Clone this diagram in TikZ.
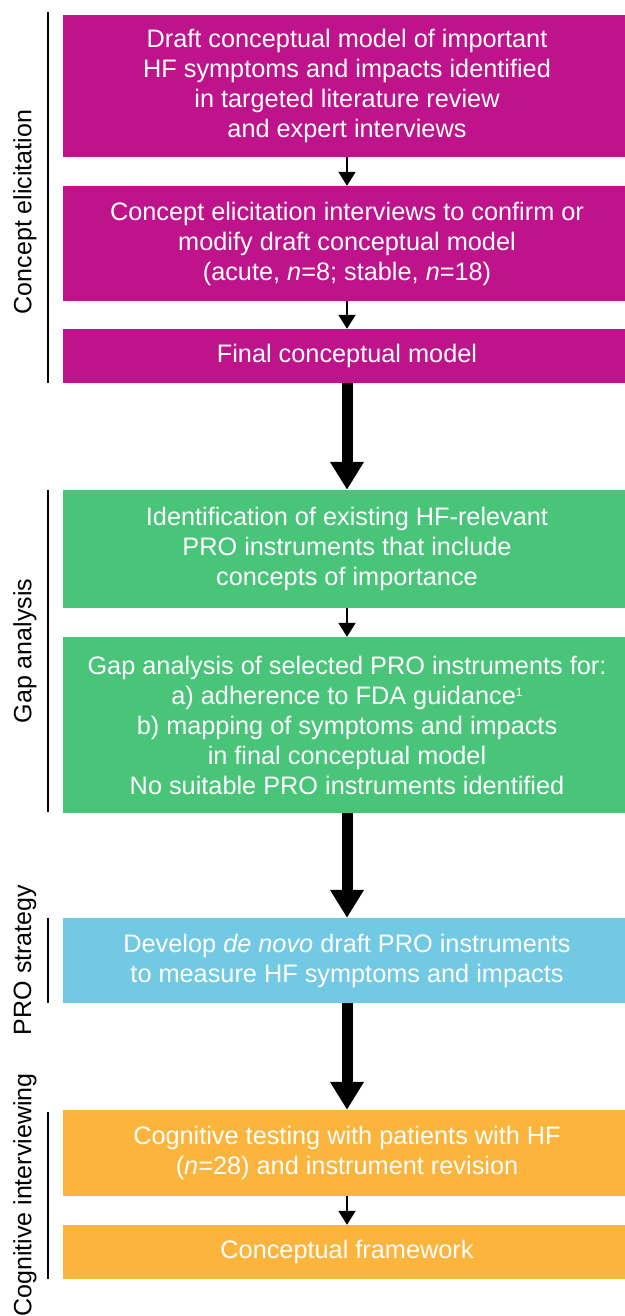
\documentclass[tikz,border=0pt]{standalone}
\usepackage{fontspec}
\setmainfont{Liberation Sans}
\usetikzlibrary{arrows.meta}
\definecolor{cmag}{RGB}{191,19,139}
\definecolor{cgreen}{RGB}{73,197,122}
\definecolor{cblue}{RGB}{114,201,228}
\definecolor{corange}{RGB}{251,180,60}
\begin{document}
\begin{tikzpicture}[x=1pt,y=-1pt,
  stepbox/.style={rectangle, inner sep=0pt, minimum width=568pt, text=white, align=center,
    font=\fontsize{25.3}{30}\selectfont},
  smallarrow/.style={line width=2pt, -{Triangle[width=17pt,length=14pt]}},
  bigarrow/.style={line width=11pt, -{Triangle[width=32pt,length=28pt]}},
  sectline/.style={line width=2pt},
  sectlabel/.style={rotate=90, inner sep=0pt, font=\fontsize{25}{30}\selectfont}]
\useasboundingbox (0,0) rectangle (624,1316);
% boxes
\node[stepbox, fill=cmag, minimum height=142pt] (b1) at (347,86)
  {Draft conceptual model of important\\HF symptoms and impacts identified\\in targeted literature review\\and expert interviews};
\node[stepbox, fill=cmag, minimum height=115pt] (b2) at (347,243.5)
  {Concept elicitation interviews to confirm or\\modify draft conceptual model\\(acute, \textit{n}=8; stable, \textit{n}=18)};
\node[stepbox, fill=cmag, minimum height=54pt] (b3) at (347,356)
  {Final conceptual model};
\node[stepbox, fill=cgreen, minimum height=118pt] (g1) at (347,549)
  {Identification of existing HF-relevant\\PRO instruments that include\\concepts of importance};
\node[stepbox, fill=cgreen, minimum height=176pt] (g2) at (347,725)
  {Gap analysis of selected PRO instruments for:\\a) adherence to FDA guidance{\fontsize{12}{12}\selectfont\raisebox{8pt}{1}}\\b) mapping of symptoms and impacts\\in final conceptual model\\No suitable PRO instruments identified};
\node[stepbox, fill=cblue, minimum height=85pt] (p1) at (347,960.5)
  {Develop \textit{de novo} draft PRO instruments\\to measure HF symptoms and impacts};
\node[stepbox, fill=corange, minimum height=86pt] (o1) at (347,1153)
  {Cognitive testing with patients with HF\\(\textit{n}=28) and instrument revision};
\node[stepbox, fill=corange, minimum height=54pt] (o2) at (347,1252)
  {Conceptual framework};
% connectors
\draw[smallarrow] (b1.south) -- (b2.north);
\draw[smallarrow] (b2.south) -- (b3.north);
\draw[bigarrow] (b3.south) -- (g1.north);
\draw[smallarrow] (g1.south) -- (g2.north);
\draw[bigarrow] (g2.south) -- (p1.north);
\draw[bigarrow] (p1.south) -- (o1.north);
\draw[smallarrow] (o1.south) -- (o2.north);
% section brackets and labels
\draw[sectline] (48,12) -- (48,383);
\draw[sectline] (48,490) -- (48,812);
\draw[sectline] (48,918) -- (48,1003);
\draw[sectline] (48,1112) -- (48,1279);
\node[sectlabel] (l1) at (25,212) {Concept elicitation};
\node[sectlabel] (l2) at (25,651) {Gap analysis};
\node[sectlabel] (l3) at (25,960) {PRO strategy};
\node[sectlabel] (l4) at (25,1195) {Cognitive interviewing};
\end{tikzpicture}
\end{document}
